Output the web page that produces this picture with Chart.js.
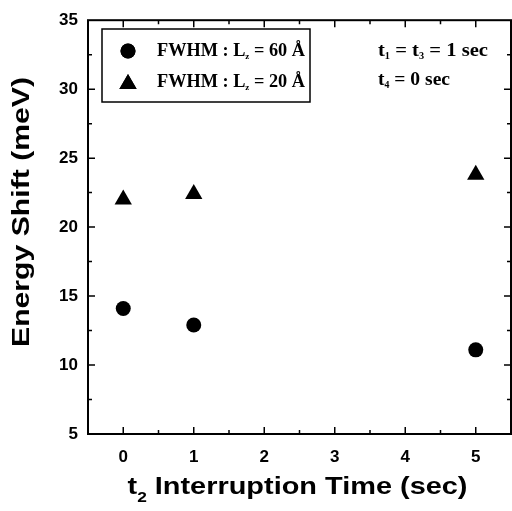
<!DOCTYPE html>
<html><head><meta charset="utf-8">
<script src="https://cdn.jsdelivr.net/npm/chart.js@4/dist/chart.umd.min.js"></script>
<style>html,body{margin:0;padding:0;background:#fff;}#wrap{width:512px;height:511px;}</style>
</head><body><div id="wrap"><canvas id="c" width="512" height="511"></canvas></div>
<script>
const interruptTimes = [0, 1, 5];
const shiftLz60 = [14.1, 12.9, 11.1];
const shiftLz20 = [22.0, 22.4, 23.8];
const seriesLabels = ['FWHM : L_z = 60 Å', 'FWHM : L_z = 20 Å'];
const xTickValues = [0, 1, 2, 3, 4, 5];
const yTickValues = [5, 10, 15, 20, 25, 30, 35];
const noteLines = ['t_1 = t_3 = 1 sec', 't_4 = 0 sec'];
const xTitle = 't_2 Interruption Time (sec)';
const yTitle = 'Energy Shift (meV)';

const SANS = '"Liberation Sans", Arial, Helvetica, sans-serif';
const SERIF = '"Liberation Serif", "Times New Roman", Times, serif';

function parseRich(str){
  const segs=[]; let buf='';
  for(let i=0;i<str.length;i++){
    if(str[i]==='_' && i+1<str.length){ if(buf){segs.push({t:buf,sub:false});buf='';} segs.push({t:str[i+1],sub:true}); i++; }
    else buf+=str[i];
  }
  if(buf) segs.push({t:buf,sub:false});
  return segs;
}
function drawRich(ctx, str, x, y, size, family, opts){
  opts=opts||{};
  const subScale=opts.subScale||0.58, subShift=opts.subShift||0.3, align=opts.align||'left', targetW=opts.width;
  const segs=parseRich(str);
  let w=0;
  segs.forEach(s=>{ ctx.font='bold '+(s.sub?size*subScale:size)+'px '+family; s.w=ctx.measureText(s.t).width; w+=s.w; });
  const sx = targetW ? targetW/w : 1;
  ctx.save();
  ctx.translate(x,y); ctx.scale(sx,1);
  let cx = align==='center' ? -w/2 : 0;
  ctx.textAlign='left'; ctx.textBaseline='alphabetic';
  segs.forEach(s=>{ ctx.font='bold '+(s.sub?size*subScale:size)+'px '+family; ctx.fillText(s.t,cx,s.sub?size*subShift:0); cx+=s.w; });
  ctx.restore();
}

const decor = {
  id:'decor',
  afterDraw(chart){
    const {ctx, chartArea:a, scales:{x,y}} = chart;
    ctx.save();
    ctx.fillStyle='#000'; ctx.strokeStyle='#000';
    ctx.lineWidth=2;
    ctx.strokeRect(a.left, a.top, a.right-a.left, a.bottom-a.top);
    ctx.lineWidth=1.5;
    ctx.beginPath();
    const maj=7, mn=4;
    yTickValues.forEach((v,i)=>{
      const py=y.getPixelForValue(v);
      if(i>0 && i<yTickValues.length-1){
        ctx.moveTo(a.left,py); ctx.lineTo(a.left+maj,py);
        ctx.moveTo(a.right,py); ctx.lineTo(a.right-maj,py);
      }
      if(i<yTickValues.length-1){
        const pm=y.getPixelForValue((v+yTickValues[i+1])/2);
        ctx.moveTo(a.left,pm); ctx.lineTo(a.left+mn,pm);
        ctx.moveTo(a.right,pm); ctx.lineTo(a.right-mn,pm);
      }
    });
    xTickValues.forEach((v,i)=>{
      const px=x.getPixelForValue(v);
      ctx.moveTo(px,a.bottom); ctx.lineTo(px,a.bottom-maj);
      ctx.moveTo(px,a.top); ctx.lineTo(px,a.top+maj);
      if(i<xTickValues.length-1){
        const pm=x.getPixelForValue((v+xTickValues[i+1])/2);
        ctx.moveTo(pm,a.bottom); ctx.lineTo(pm,a.bottom-mn);
        ctx.moveTo(pm,a.top); ctx.lineTo(pm,a.top+mn);
      }
    });
    ctx.stroke();

    // legend box
    ctx.lineWidth=1.5;
    ctx.strokeRect(102, 29, 208, 73);
    const ds=chart.data.datasets;
    const rows=[51, 84];
    ds.forEach((d,i)=>{
      Chart.helpers.drawPoint(ctx,{pointStyle:d.pointStyle,radius:d.pointRadius,borderWidth:0},128,rows[i]);
      ctx.fill();
    });
    drawRich(ctx, seriesLabels[0], 157, 56, 18, SERIF, {subScale:0.5, subShift:0.18, width:148});
    drawRich(ctx, seriesLabels[1], 157, 87, 18, SERIF, {subScale:0.5, subShift:0.18, width:148});
    drawRich(ctx, noteLines[0], 378, 56, 19, SERIF, {subScale:0.5, subShift:0.18, width:110});
    drawRich(ctx, noteLines[1], 378, 85, 19, SERIF, {subScale:0.5, subShift:0.18, width:72});

    // axis titles
    drawRich(ctx, xTitle, (a.left+a.right)/2-2, 494, 24, SANS, {align:'center', width:340, subScale:0.6, subShift:0.32});
    ctx.save();
    ctx.translate(29, 212); ctx.rotate(-Math.PI/2);
    drawRich(ctx, yTitle, 0, 0, 24, SANS, {align:'center', width:270});
    ctx.restore();
    ctx.restore();
  }
};

new Chart(document.getElementById('c'), {
  type:'scatter',
  data:{
    datasets:[
      {label:seriesLabels[0].replace('_',''), data:interruptTimes.map((t,i)=>({x:t,y:shiftLz60[i]})), pointStyle:'circle', pointRadius:7.5, pointHoverRadius:7.5, backgroundColor:'#000', borderColor:'#000', borderWidth:0},
      {label:seriesLabels[1].replace('_',''), data:interruptTimes.map((t,i)=>({x:t,y:shiftLz20[i]})), pointStyle:'triangle', pointRadius:10, pointHoverRadius:10, backgroundColor:'#000', borderColor:'#000', borderWidth:0}
    ]
  },
  options:{
    responsive:false, animation:false, devicePixelRatio:1,
    layout:{autoPadding:false, padding:{top:20, right:1, left:0, bottom:0}},
    plugins:{legend:{display:false}, tooltip:{enabled:false}},
    scales:{
      x:{type:'linear', min:-0.5, max:5.5,
        afterBuildTicks:ax=>{ax.ticks=xTickValues.map(v=>({value:v}));},
        afterFit:ax=>{ax.height=77;},
        grid:{display:false, drawTicks:false}, border:{display:false},
        ticks:{color:'#000', padding:13, font:{family:SANS, size:17, weight:'bold'}, maxRotation:0}
      },
      y:{type:'linear', min:5, max:35,
        afterBuildTicks:ax=>{ax.ticks=yTickValues.map(v=>({value:v}));},
        afterFit:ax=>{ax.width=88;},
        grid:{display:false, drawTicks:false}, border:{display:false},
        ticks:{color:'#000', padding:10, font:{family:SANS, size:17, weight:'bold'}}
      }
    }
  },
  plugins:[decor]
});
</script></body></html>
